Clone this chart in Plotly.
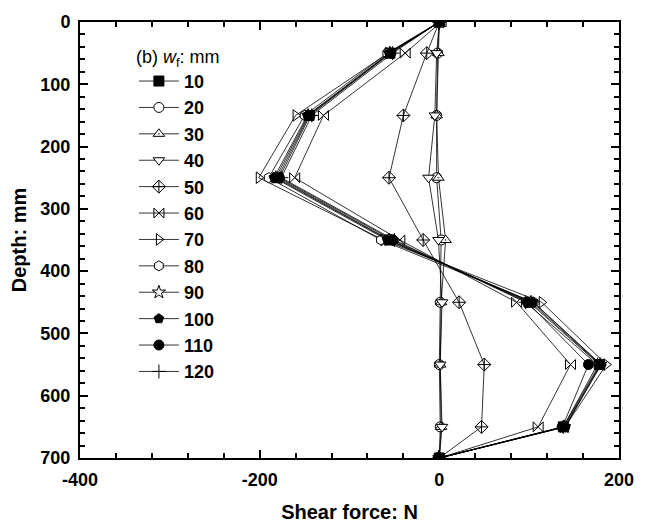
import plotly.graph_objects as go

depth = [0, 50, 150, 250, 350, 450, 550, 650, 700]
widths = ["10", "20", "30", "40", "50", "60", "70", "80", "90", "100", "110", "120"]

x_tickvals = [-400, -200, 0, 200]
x_ticktext = ["-400", "-200", "0", "200"]

shear_10 = [0, -55, -145, -180, -55, 100, 178, 138, 0]
shear_20 = [0, -2, -3, -3, 2, 1, 0, 1, 0]
shear_30 = [0, -1, -3, -1, 7, 2, 1, 2, 0]
shear_40 = [0, -3, -5, -12, -1, 3, 1, 3, 0]
shear_50 = [0, -14, -40, -56, -18, 22, 50, 47, 0]
shear_60 = [2, -38, -129, -161, -44, 86, 146, 110, 0]
shear_70 = [0, -57, -160, -201, -62, 114, 186, 140, 0]
shear_80 = [0, -58, -150, -190, -65, 105, 180, 140, 0]
shear_90 = [0, -55, -146, -182, -56, 102, 179, 139, 0]
shear_100 = [0, -56, -147, -184, -58, 104, 180, 140, 0]
shear_110 = [0, -54, -144, -178, -52, 98, 166, 137, 0]
shear_120 = [0, -52, -142, -176, -50, 96, 176, 138, 0]

series = [shear_10, shear_20, shear_30, shear_40, shear_50, shear_60,
          shear_70, shear_80, shear_90, shear_100, shear_110, shear_120]

styles = [
    dict(symbol="square", color="black"),
    dict(symbol="circle", color="white"),
    dict(symbol="triangle-up-dot", color="white"),
    dict(symbol="triangle-down", color="white"),
    dict(symbol="diamond-cross-open", color="black"),
    dict(symbol="bowtie-open", color="black"),
    dict(symbol="triangle-right-open", color="black"),
    dict(symbol="hexagon", color="white"),
    dict(symbol="star", color="white"),
    dict(symbol="pentagon", color="black"),
    dict(symbol="circle", color="black"),
    dict(symbol="cross-thin-open", color="black"),
]

fig = go.Figure()
for w, vals, st in zip(widths, series, styles):
    fig.add_trace(go.Scatter(
        x=vals, y=depth, mode="lines+markers", name=w,
        line=dict(color="black", width=0.8),
        marker=dict(symbol=st["symbol"], color=st["color"], size=10,
                    line=dict(color="black", width=1)),
    ))

font_family = "Liberation Sans, Arial, sans-serif"

axis_common = dict(
    showline=True, linecolor="black", linewidth=2, mirror="ticks",
    ticks="inside", ticklen=8, tickwidth=1.5, tickcolor="black",
    showgrid=False, zeroline=False,
    tickfont=dict(family=font_family, size=18, color="black", weight="bold"),
    title_font=dict(family=font_family, size=20, color="black", weight="bold"),
)

fig.update_layout(
    width=646, height=532,
    margin=dict(l=80, r=17, t=18, b=69),
    paper_bgcolor="white", plot_bgcolor="white",
    font=dict(family=font_family, color="black"),
    xaxis=dict(range=[-400, 200], tickmode="array", tickvals=x_tickvals,
               ticktext=x_ticktext,
               title=dict(text="Shear force: N", standoff=16),
               minor=dict(ticks="inside", tickmode="linear", tick0=-400, dtick=40,
                          ticklen=5, tickwidth=1.5,
                          tickcolor="black", showgrid=False),
               ticklabelstandoff=4,
               **axis_common),
    yaxis=dict(range=[700, 0], tickmode="linear", tick0=0, dtick=100,
               title=dict(text="Depth: mm", standoff=8),
               minor=dict(ticks="inside", dtick=20, ticklen=5, tickwidth=1.5,
                          tickcolor="black", showgrid=False),
               ticklabelstandoff=4,
               **axis_common),
    legend=dict(
        x=0.10, y=0.96, xanchor="left", yanchor="top",
        bgcolor="rgba(0,0,0,0)", borderwidth=0,
        font=dict(family=font_family, size=18, color="black", weight="bold"),
        title=dict(text="(b) <i>w</i><sub>f</sub>: mm",
                   font=dict(family=font_family, size=18, color="black", weight="normal")),
        itemwidth=40,
    ),
)

fig.write_html("out.html")
